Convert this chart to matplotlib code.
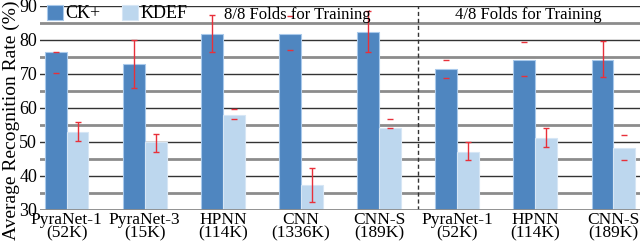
import matplotlib
matplotlib.use("Agg")
import matplotlib.pyplot as plt
import numpy as np

labels = ["PyraNet-1\n(52K)", "PyraNet-3\n(15K)", "HPNN\n(114K)", "CNN\n(1336K)",
          "CNN-S\n(189K)", "PyraNet-1\n(52K)", "HPNN\n(114K)", "CNN-S\n(189K)"]

ck_vals = [76.4, 72.8, 81.8, 81.8, 82.4, 71.3, 74.1, 74.1]
ck_lo = [70.2, 65.8, 76.4, 77.1, 76.4, 68.8, 69.2, 69.0]
ck_hi = [76.4, 80.0, 87.3, 86.9, 88.5, 74.1, 79.2, 79.5]
ck_line = [False, True, True, False, True, False, False, True]

kdef_vals = [52.8, 49.9, 57.9, 37.4, 53.9, 47.1, 51.2, 48.2]
kdef_lo = [50.1, 47.1, 56.6, 32.3, 53.9, 44.6, 48.5, 44.6]
kdef_hi = [55.7, 52.4, 59.5, 42.3, 56.6, 49.9, 54.0, 51.9]
kdef_line = [True, True, False, True, False, True, True, False]

plt.rcParams["font.family"] = ["Liberation Serif", "DejaVu Serif"]
plt.rcParams["font.size"] = 13

fig = plt.figure(figsize=(6.4, 2.42), dpi=100)
ax = fig.add_axes([0.0625, 0.1335, 0.9375, 0.843])

x = np.arange(len(labels))
w = 0.28
ck_color = "#4F86C0"
kdef_color = "#BDD7EE"
red = "#E8303A"

ax.bar(x - w / 2, ck_vals, w, color=ck_color, edgecolor="#A9C9EB", linewidth=0.8, zorder=3, label="CK+")
ax.bar(x + w / 2, kdef_vals, w, color=kdef_color, edgecolor="#D6E6F5", linewidth=0.8, zorder=3, label="KDEF")


def draw_err(xs, vals, lo, hi, line):
    for xi, v, l, h, show in zip(xs, vals, lo, hi, line):
        ax.errorbar(xi, v, yerr=[[v - l], [h - v]], fmt="none", ecolor=red,
                    elinewidth=1.0 if show else 0, capsize=2.5, capthick=1.0, zorder=4)


draw_err(x - w / 2, ck_vals, ck_lo, ck_hi, ck_line)
draw_err(x + w / 2, kdef_vals, kdef_lo, kdef_hi, kdef_line)

ax.set_ylim(30, 90)
ax.set_xlim(-0.34, 7.34)
ax.set_yticks(np.arange(30, 91, 10))
ax.set_yticks(np.arange(35, 90, 10), minor=True)
ax.grid(axis="y", which="major", color="#333333", linewidth=1.0, zorder=0)
ax.grid(axis="y", which="minor", color="#8C8C8C", linewidth=2.0, zorder=0)
ax.set_axisbelow(True)
for s in ax.spines.values():
    s.set_visible(False)
ax.axhline(30, color="#8C8C8C", linewidth=2.0, zorder=5)
ax.tick_params(axis="both", which="both", length=0)
ax.tick_params(axis="y", pad=2, labelsize=13)
ax.tick_params(axis="x", pad=1.5, labelsize=12.5)
ax.set_xticks(x)
ax.set_xticklabels(labels, linespacing=0.78)

ax.axvline(4.5, color="#333333", linestyle=(0, (3, 2)), linewidth=1.0, zorder=2)

ax.text(2.95, 87.4, "8/8 Folds for Training", ha="center", va="center", fontsize=12, zorder=6)
ax.text(5.91, 87.4, "4/8 Folds for Training", ha="center", va="center", fontsize=12, zorder=6)

ax.set_ylabel("Average Recognition Rate (%)", fontsize=14)
ax.yaxis.set_label_coords(-0.033, 0.44)

ax.legend(loc="upper left", bbox_to_anchor=(0.0, 1.04), ncol=2, frameon=False,
          handlelength=0.9, handleheight=0.9, handletextpad=0.1, columnspacing=1.2,
          borderaxespad=0.0, fontsize=13)

fig.savefig("out.png", dpi=100)
